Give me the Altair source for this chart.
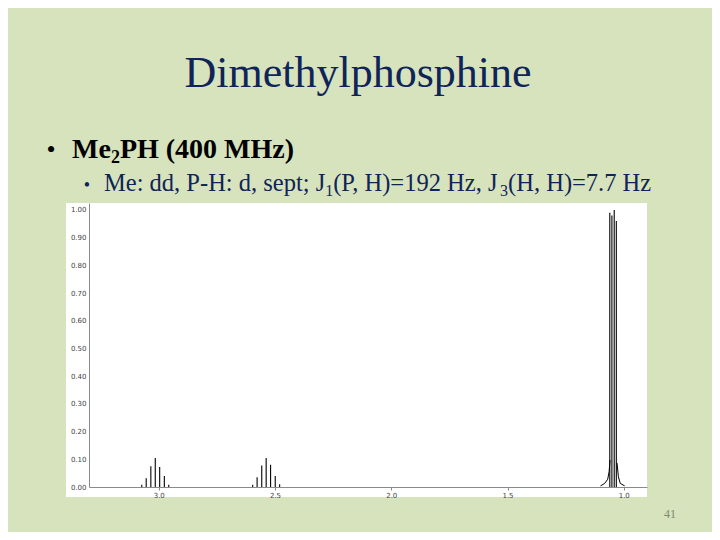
import altair as alt
import pandas as pd

# ---------------- data ----------------
# P-H proton: doublet (J = 192 Hz) of septets (J = 7.7 Hz)
ph1_ppm = [3.073, 3.054, 3.034, 3.015, 2.996, 2.976, 2.957]
ph1_int = [0.008, 0.032, 0.075, 0.105, 0.072, 0.040, 0.008]
ph2_ppm = [2.596, 2.577, 2.557, 2.538, 2.519, 2.499, 2.480]
ph2_int = [0.008, 0.035, 0.078, 0.105, 0.080, 0.040, 0.010]
# methyl protons: doublet of doublets
me_ppm = [1.060, 1.051, 1.041, 1.032]
me_int = [0.99, 0.98, 1.00, 0.96]
# broadened foot of the methyl signal
foot_left_ppm = [1.100, 1.082, 1.069, 1.063, 1.059]
foot_left_int = [0.004, 0.013, 0.028, 0.055, 0.097]
foot_right_ppm = [1.029, 1.023, 1.015, 0.996]
foot_right_int = [0.087, 0.037, 0.013, 0.004]

x_tick_values = [3.0, 2.5, 2.0, 1.5, 1.0]
y_tick_values = [0.0, 0.1, 0.2, 0.3, 0.4, 0.5, 0.6, 0.7, 0.8, 0.9, 1.0]

title_text = "Dimethylphosphine"
bullet1_parts = ["Me", "2", "PH (400 MHz)"]
bullet2_parts = ["Me: dd, P-H: d, sept; J", "1", "(P, H)=192 Hz, J", "3", "(H, H)=7.7 Hz"]
page_number = "41"

# ---------------- tables ----------------
sticks = pd.DataFrame({
    "ppm": ph1_ppm + ph2_ppm + me_ppm,
    "intensity": ph1_int + ph2_int + me_int,
})
sticks["zero"] = 0.0

foot = pd.DataFrame({
    "ppm": foot_left_ppm + foot_right_ppm,
    "intensity": foot_left_int + foot_right_int,
    "side": ["left"] * len(foot_left_ppm) + ["right"] * len(foot_right_ppm),
})

BG = "#d7e3bc"
NAVY = "#0f2458"
SERIF = "Liberation Serif"

W, H = 558, 284

xscale = alt.Scale(domain=[0.9, 3.3], reverse=True, nice=False, zero=False)
yscale = alt.Scale(domain=[0, 1.025], nice=False, zero=True)

xaxis = alt.Axis(values=x_tick_values, format=".1f", title=None, grid=False,
                 labelFontSize=7, labelColor="#444444", labelFont="DejaVu Sans",
                 domainColor="#8a8a8a", tickColor="#8a8a8a", tickSize=3,
                 labelPadding=1, labelOverlap=False, zindex=2)
yaxis = alt.Axis(values=y_tick_values, format=".2f", title=None, grid=False,
                 labelFontSize=7, labelColor="#444444", labelFont="DejaVu Sans",
                 domainColor="#8a8a8a", ticks=False, labelPadding=3,
                 labelOverlap=False, zindex=2)

one = pd.DataFrame({"k": [0]})

panel = alt.Chart(one).mark_rect(color="white").encode(
    x=alt.value(-23), x2=alt.value(W), y=alt.value(0), y2=alt.value(294)
)

rules = alt.Chart(sticks).mark_rule(color="black", strokeWidth=1.1).encode(
    x=alt.X("ppm:Q", scale=xscale, axis=xaxis),
    y=alt.Y("intensity:Q", scale=yscale, axis=yaxis),
    y2="zero:Q",
)

foot_lines = alt.Chart(foot).mark_line(color="black", strokeWidth=1.0).encode(
    x=alt.X("ppm:Q", scale=xscale, axis=xaxis),
    y=alt.Y("intensity:Q", scale=yscale, axis=yaxis),
    detail="side:N",
)


def label(text, x, y, size, color, weight="normal", align="left", font=SERIF):
    df = pd.DataFrame({"t": [text]})
    return alt.Chart(df).mark_text(
        fontSize=size, font=font, fontWeight=weight, color=color,
        align=align, baseline="alphabetic"
    ).encode(text="t:N", x=alt.value(x), y=alt.value(y))


texts = [
    label(title_text, 269, -116, 44, NAVY, align="center"),
    label("\u2022", -38, -45, 26, "black", align="center"),
    label(bullet1_parts[0], -17, -45, 28, "black", weight="bold"),
    label(bullet1_parts[1], 21.9, -40, 18, "black", weight="bold"),
    label(bullet1_parts[2], 30.9, -45, 28, "black", weight="bold"),
    label("\u2022", -2, -12, 18, NAVY, align="center"),
    label(bullet2_parts[0], 15, -12, 24.5, NAVY),
    label(bullet2_parts[1], 236.2, -7, 16, NAVY),
    label(bullet2_parts[2], 244.2, -12, 24.5, NAVY),
    label(bullet2_parts[3], 411.1, -7, 16, NAVY),
    label(bullet2_parts[4], 419.1, -12, 24.5, NAVY),
    label(page_number, 581, 315, 12, "#7d8a6c", align="center"),
]

chart = alt.layer(panel, rules, foot_lines, *texts).properties(
    width=W, height=H,
    background=BG,
    padding={"left": 81, "top": 195, "right": 65, "bottom": 45},
    autosize=alt.AutoSizeParams(type="none"),
).configure_view(stroke=None)

chart.save("out.html", embed_options={"renderer": "svg", "actions": False})
